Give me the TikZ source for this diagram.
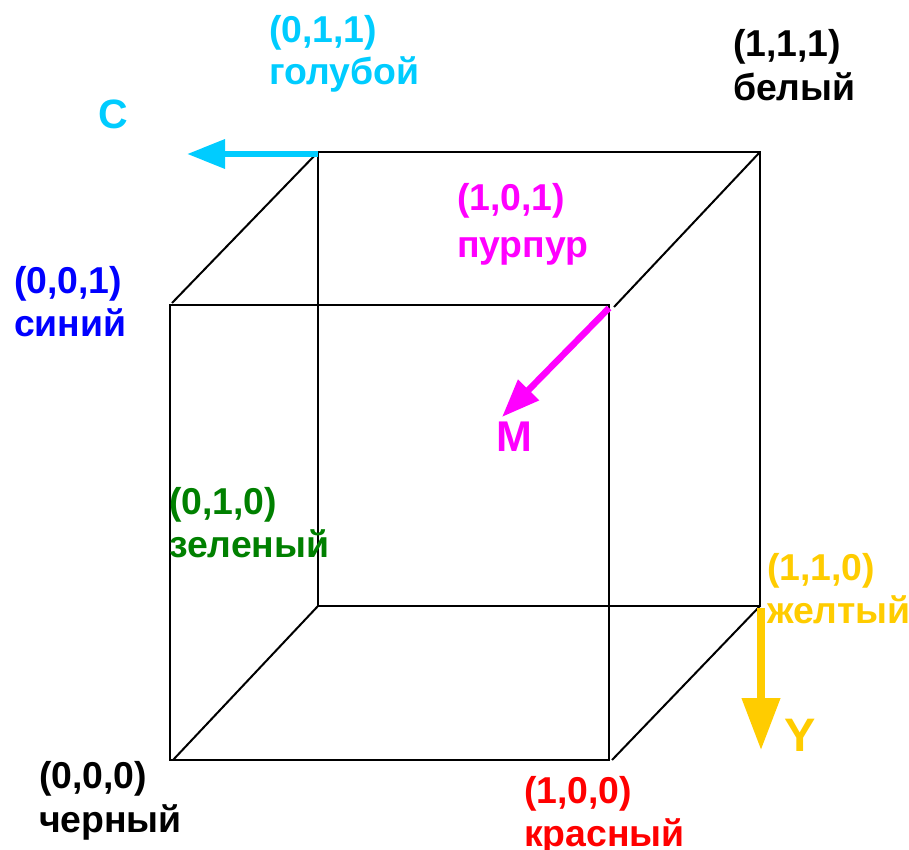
\documentclass[tikz,border=0pt]{standalone}
\usepackage{fontspec}
\setmainfont{Liberation Sans}
\usetikzlibrary{arrows.meta}
\definecolor{ccy}{RGB}{0,204,255}
\definecolor{cbl}{RGB}{0,0,255}
\definecolor{cmg}{RGB}{255,0,255}
\definecolor{cgr}{RGB}{0,128,0}
\definecolor{cye}{RGB}{255,204,0}
\definecolor{crd}{RGB}{255,0,0}
\tikzset{
  lbl/.style={anchor=base west,inner sep=0pt,outer sep=0pt,font=\fontsize{37.4}{42}\selectfont\bfseries,align=left},
  edge/.style={draw=black,line width=2pt},
  axisa/.style={line width=6.5pt,-{Triangle[length=38pt,width=28pt]}},
  axisb/.style={line width=7.5pt,-{Triangle[length=52pt,width=37pt]}}
}
\begin{document}
\begin{tikzpicture}[x=1pt,y=-1pt]
\useasboundingbox (0,0) rectangle (909,850);
\coordinate (f1) at (170,305);
\coordinate (f2) at (609,305);
\coordinate (f3) at (609,760);
\coordinate (f4) at (170,760);
\coordinate (b1) at (318,152);
\coordinate (b2) at (760,152);
\coordinate (b3) at (760,606);
\coordinate (b4) at (318,606);
\coordinate (d1) at (172,303);
\coordinate (d2) at (614,307);
\coordinate (d3) at (612,760);
\coordinate (d4) at (173,760);
\draw[edge] (f1) -- (f2) -- (f3) -- (f4) -- cycle;
\draw[edge] (b1) -- (b2) -- (b3) -- (b4) -- cycle;
\draw[edge] (d1) -- (b1);
\draw[edge] (d2) -- (b2);
\draw[edge] (d3) -- (b3);
\draw[edge] (d4) -- (b4);
\coordinate (cs) at (318,154); \coordinate (ce) at (187,154);
\coordinate (ms) at (609,308); \coordinate (me) at (502,417);
\coordinate (ys) at (761,608); \coordinate (ye) at (761,750);
\draw[axisa,ccy] (cs) -- (ce);
\draw[axisa,cmg] (ms) -- (me);
\draw[axisb,cye] (ys) -- (ye);
\node[lbl,text=ccy] (t1) at (269,43) {(0,1,1)};
\node[lbl,text=ccy] (t2) at (269,85) {голубой};
\node[lbl,text=black] (t3) at (733,57) {(1,1,1)};
\node[lbl,text=black] (t4) at (733,101) {белый};
\node[lbl,text=ccy,font=\fontsize{41}{46}\selectfont\bfseries] (t5) at (98,128.5) {C};
\node[lbl,text=cmg] (t6) at (457,211) {(1,0,1)};
\node[lbl,text=cmg] (t7) at (457,257) {пурпур};
\node[lbl,text=cbl] (t8) at (14,293) {(0,0,1)};
\node[lbl,text=cbl] (t9) at (14,336) {синий};
\node[lbl,text=cmg,font=\fontsize{43}{48}\selectfont\bfseries] (t10) at (496,451) {M};
\node[lbl,text=cgr] (t11) at (169,514) {(0,1,0)};
\node[lbl,text=cgr] (t12) at (169,557) {зеленый};
\node[lbl,text=cye] (t13) at (767,580) {(1,1,0)};
\node[lbl,text=cye] (t14) at (767,623) {желтый};
\node[lbl,text=cye,font=\fontsize{47}{52}\selectfont\bfseries] (t15) at (784,751) {Y};
\node[lbl,text=black] (t16) at (39,788) {(0,0,0)};
\node[lbl,text=black] (t17) at (39,832) {черный};
\node[lbl,text=crd] (t18) at (524,803) {(1,0,0)};
\node[lbl,text=crd] (t19) at (524,846) {красный};
\end{tikzpicture}
\end{document}
